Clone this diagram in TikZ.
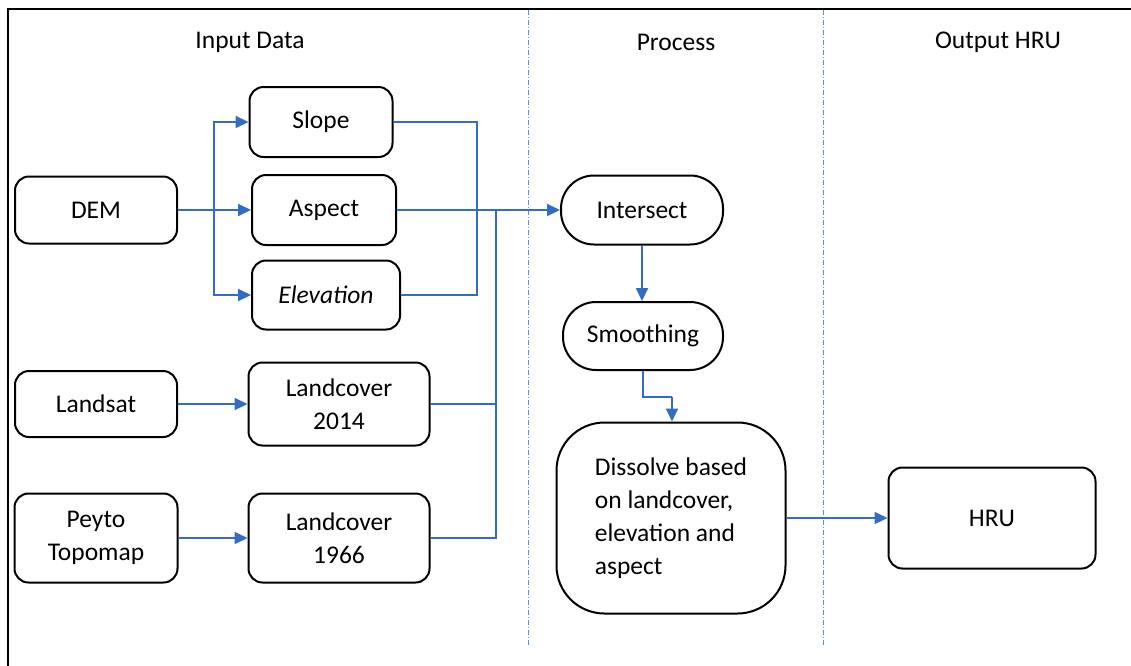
\documentclass[tikz,border=0pt]{standalone}
\usepackage{fontspec}
\setmainfont{Carlito}
\usetikzlibrary{arrows.meta,positioning}
\definecolor{flow}{RGB}{50,108,196}
\definecolor{lane}{RGB}{90,140,220}
\tikzset{
  box/.style={draw=black, line width=2pt, rounded corners=14pt, align=center, inner sep=0pt, font=\fontsize{25.5}{33}\selectfont},
  pill/.style={box, rounded corners=33pt},
  link/.style={draw=flow, line width=2pt},
  arr/.style={link, -{Triangle[length=13pt,width=12pt]}},
  hdr/.style={font=\fontsize{25.5}{30}\selectfont},
}
\begin{document}
\begin{tikzpicture}[x=1pt,y=-1pt]
\useasboundingbox (0,0) rectangle (1131,665);
\draw[line width=2.2pt] (8,680) -- (8,9) -- (1140,9);
\draw[lane, line width=1pt, dash pattern=on 5pt off 2pt on 1pt off 2pt] (528,10) -- (528,645);
\draw[lane, line width=1pt, dash pattern=on 5pt off 2pt on 1pt off 2pt] (823,10) -- (823,645);

\node[hdr] (h1) at (250,42) {Input Data};
\node[hdr] (h2) at (676,42) {Process};
\node[hdr] (h3) at (998,42) {Output HRU};

\node[box, minimum width=162pt, minimum height=67pt] (dem) at (96,210) {DEM};
\node[box, minimum width=143pt, minimum height=70pt] (slope) at (321,122) {Slope};
\node[box, minimum width=144pt, minimum height=70pt] (aspect) at (324,210) {Aspect};
\node[box, minimum width=148pt, minimum height=69pt] (elev) at (326,295) {\itshape Elevation};
\node[box, minimum width=162pt, minimum height=66pt] (landsat) at (96,404) {Landsat};
\node[box, minimum width=181pt, minimum height=83pt] (lc14) at (339,404) {Landcover\\2014};
\node[box, minimum width=163pt, minimum height=89pt] (peyto) at (96,538) {Peyto\\Topomap};
\node[box, minimum width=181pt, minimum height=89pt] (lc66) at (339,538) {Landcover\\1966};
\node[pill, minimum width=162pt, minimum height=69pt] (inter) at (642,210) {Intersect};
\node[pill, minimum width=160pt, minimum height=68pt] (smooth) at (643,336) {Smoothing};
\node[box, rounded corners=48pt, minimum width=229pt, minimum height=191pt, align=left] (diss) at (671,518) {Dissolve based\\on landcover,\\elevation and\\aspect};
\node[box, minimum width=207pt, minimum height=101pt] (hru) at (992,518) {HRU};

\coordinate (jl) at (214,210);
\coordinate (jr) at (477,210);
\coordinate (jb) at (496,210);
\coordinate (js) at (672,397);

\draw[link] (dem.east) -- (jl);
\draw[arr] (jl) |- (slope.west);
\draw[arr] (jl) -- (aspect.west);
\draw[arr] (jl) |- (elev.west);
\draw[link] (slope.east) -| (jr);
\draw[link] (elev.east) -| (jr);
\draw[arr] (aspect.east) -- (inter.west);
\draw[link] (lc14.east) -| (jb);
\draw[link] (lc66.east) -| (jb);
\draw[arr] (landsat.east) -- (lc14.west);
\draw[arr] (peyto.east) -- (lc66.west);
\draw[arr] (inter.south) -- (smooth.north -| inter.south);
\draw[link] (smooth.south) |- (js);
\draw[arr] (js) -- (js |- diss.north);
\draw[arr] (diss.east) -- (hru.west);
\end{tikzpicture}
\end{document}
